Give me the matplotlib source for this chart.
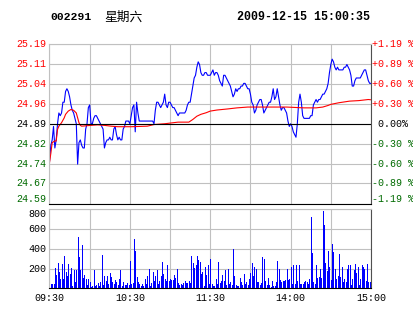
import matplotlib.pyplot as plt
import numpy as np

# header text
stock_code = '002291'
weekday = '星期六'
stamp = '2009-12-15 15:00:35'

# price axis labels (previous close in the middle)
pre_close = 24.89
price_labels = ['25.19', '25.11', '25.04', '24.96', '24.89', '24.82', '24.74', '24.67', '24.59']
pct_values = [1.19, 0.89, 0.60, 0.30, 0.00, -0.30, -0.60, -0.89, -1.19]
pct_labels = ['+1.19 %', '+0.89 %', '+0.60 %', '+0.30 %', ' 0.00%',
              '-0.30 %', '-0.60 %', '-0.89 %', '-1.19 %']
time_ticks = [0, 60, 120, 180, 240]
time_labels = ['09:30', '10:30', '11:30', '14:00', '15:00']
vol_ticks = [200, 400, 600, 800]

# minute prices 09:30 - 11:30, 13:00 - 15:00
price = [
    24.75, 24.81, 24.83, 24.88, 24.80, 24.83, 24.89, 24.93, 24.92, 24.93,
    24.97, 24.97, 25.01, 25.02, 25.01, 24.99, 24.96, 24.94, 24.93, 24.91,
    24.89, 24.74, 24.82, 24.83, 24.81, 24.80, 24.80, 24.87, 24.89, 24.95,
    24.96, 24.89, 24.89, 24.91, 24.92, 24.92, 24.91, 24.90, 24.89, 24.88,
    24.87, 24.80, 24.82, 24.83, 24.83, 24.84, 24.83, 24.83, 24.87, 24.88,
    24.85, 24.83, 24.84, 24.83, 24.83, 24.87, 24.88, 24.90, 24.90, 24.90,
    24.89, 24.92, 24.95, 24.96, 24.86, 24.97, 24.93, 24.90, 24.90, 24.90,
    24.90, 24.90, 24.90, 24.90, 24.90, 24.90, 24.90, 24.90, 24.89, 24.94,
    24.97, 24.97, 24.96, 24.95, 24.96, 24.97, 25.00, 24.96, 24.95, 24.97,
    24.97, 24.96, 24.95, 24.95, 24.94, 24.93, 24.92, 24.93, 24.93, 24.93,
    24.93, 24.93, 24.94, 24.96, 24.97, 24.97, 25.00, 25.03, 25.06, 25.07,
    25.10, 25.12, 25.11, 25.08, 25.07, 25.07, 25.08, 25.08, 25.07, 25.07,
    25.07, 25.08, 25.09, 25.07, 25.08, 25.08, 25.07, 25.05, 25.04, 25.03,
    25.07, 25.07, 25.06, 25.05, 25.04, 25.03, 25.01, 24.99, 25.00, 25.02,
    25.01, 25.02, 25.02, 25.03, 25.03, 25.04, 25.04, 25.03, 25.02, 25.02,
    25.00, 24.97, 24.96, 24.93, 24.94, 24.96, 24.97, 24.98, 24.98, 24.96,
    24.93, 24.94, 24.95, 24.96, 24.97, 24.97, 24.99, 25.02, 24.98, 24.99,
    25.02, 24.99, 24.96, 24.94, 24.95, 24.95, 24.94, 24.93, 24.90, 24.88,
    24.89, 24.88, 24.86, 24.85, 24.84, 24.89, 24.97, 25.00, 24.97, 24.92,
    24.91, 24.91, 24.91, 24.91, 24.91, 24.92, 24.92, 24.96, 24.97, 24.98,
    24.97, 24.98, 24.98, 24.99, 25.00, 25.00, 25.01, 25.02, 25.04, 25.08,
    25.11, 25.13, 25.12, 25.10, 25.09, 25.10, 25.09, 25.09, 25.09, 25.09,
    25.10, 25.10, 25.11, 25.10, 25.09, 25.07, 25.03, 25.03, 25.05, 25.06,
    25.06, 25.06, 25.06, 25.07, 25.08, 25.09, 25.09, 25.07, 25.05, 25.04,
    25.04,
]

# average price line, read at a coarser step
avg_minutes = [0, 1, 2, 4, 5, 6, 7, 9, 11, 12, 14, 16, 18, 20, 21, 22, 23, 24,
               31, 36, 41, 46, 51, 61, 73, 78, 86, 96, 104, 107, 110, 113, 117,
               120, 125, 133, 140, 148, 155, 165, 177, 190, 199, 204, 208, 210,
               216, 224, 231, 238, 240]
avg_price = [24.746, 24.78, 24.82, 24.826, 24.826, 24.869, 24.881, 24.894, 24.912,
             24.925, 24.937, 24.943, 24.940, 24.930, 24.912, 24.894, 24.884, 24.881,
             24.884, 24.886, 24.884, 24.881, 24.879, 24.879, 24.881, 24.887, 24.890,
             24.896, 24.896, 24.906, 24.918, 24.925, 24.931, 24.937, 24.941, 24.945,
             24.949, 24.952, 24.952, 24.952, 24.952, 24.949, 24.949, 24.952, 24.958,
             24.962, 24.968, 24.974, 24.976, 24.980, 24.979]

# minute volume
volume = [
    327, 44, 40, 40, 209, 135, 253, 169, 95, 246,
    95, 327, 169, 125, 246, 142, 203, 24, 186, 61,
    186, 520, 321, 182, 439, 101, 135, 95, 34, 95,
    61, 17, 24, 186, 24, 34, 57, 24, 68, 338,
    34, 125, 74, 128, 47, 155, 115, 68, 40, 81,
    68, 34, 95, 186, 27, 61, 34, 34, 57, 34,
    277, 40, 51, 500, 375, 118, 68, 40, 24, 40,
    27, 95, 47, 125, 196, 27, 57, 162, 74, 122,
    186, 40, 74, 128, 263, 142, 95, 74, 236, 74,
    95, 84, 84, 135, 108, 196, 54, 34, 47, 34,
    54, 74, 54, 54, 78, 54, 327, 257, 209, 236,
    327, 290, 263, 149, 165, 27, 216, 135, 236, 44,
    297,
    44, 24, 24, 95, 47, 263, 54, 74, 135, 74,
    186, 34, 196, 47, 61, 34, 398, 125, 34, 24,
    24, 108, 61, 34, 145, 47, 68, 34, 95, 152,
    257, 125, 216, 196, 61, 61, 34, 51, 314, 297,
    74, 34, 101, 34, 17, 74, 24, 24, 61, 277,
    196, 81, 61, 74, 74, 81, 196, 81, 95, 216,
    47, 236, 47, 236, 74, 236, 40, 44, 44, 61,
    74, 61, 47, 95, 722, 358, 61, 47, 236, 108,
    111, 196, 108, 783, 641, 257, 176, 378, 216, 81,
    452, 368, 196, 95, 128, 344, 118, 216, 61, 95,
    61, 196, 236, 236, 34, 95, 186, 243, 152, 216,
    34, 95, 236, 219, 196, 74, 243, 68, 60, 520,
]

minutes = np.arange(len(price))
mono = 'Liberation Mono'
red, green, grid_c = '#ff0000', '#006a00', '#c0c0c0'

W, H = 414, 314
fig = plt.figure(figsize=(W / 100, H / 100), dpi=100)
ax = fig.add_axes([49.5 / W, 110.5 / H, 321.5 / W, 159.5 / H])
axv = fig.add_axes([49.5 / W, 25.7 / H, 321.5 / W, 79 / H])

# header
fig.text(50 / W, 1 - 17 / H, stock_code, family=mono, fontweight='bold', fontsize=8.2, va='center')
fig.text(104 / W, 1 - 17 / H, weekday, family=['Noto Sans CJK SC', 'DejaVu Sans'], fontsize=9.2, va='center')
fig.text(370 / W, 1 - 17 / H, stamp, family=mono, fontweight='bold', fontsize=8.4, va='center', ha='right')

# price panel
levels = [pre_close * (1 + p / 100) for p in pct_values]
ax.plot(minutes, price, color='#0000ff', lw=0.8)
ax.plot(avg_minutes, avg_price, color=red, lw=0.8)
ax.axhline(pre_close, color='black', lw=0.8)
ax.set_xlim(0, 240)
ax.set_ylim(levels[-1], levels[0])
ax.set_yticks(levels)
ax.set_xticks(range(0, 241, 30))
ax.grid(True, color=grid_c, lw=0.8)
ax.tick_params(length=0, labelleft=False, labelbottom=False)

for lv, pl, cl, pv in zip(levels, price_labels, pct_labels, pct_values):
    col = red if pv > 0 else (green if pv < 0 else 'black')
    va = 'bottom' if pv == pct_values[-1] else 'center'
    ax.text(-3 / 321.5, lv, pl, transform=ax.get_yaxis_transform(), ha='right', va=va,
            family=mono, fontsize=7.2, color=col)
    ax.text(1 + 1 / 321.5, lv, cl, transform=ax.get_yaxis_transform(), ha='left', va=va,
            family=mono, fontsize=7.2, color=col)

# volume panel - one 1px stick per minute
axv.vlines(minutes, 0, volume, color='#0000ff', lw=0.5, antialiased=False)
axv.set_xlim(0, 240)
axv.set_ylim(0, 800)
axv.set_yticks(vol_ticks)
axv.set_xticks(time_ticks)
axv.set_xticklabels(time_labels, family=mono, fontsize=7.2)
axv.set_xticks(range(30, 240, 60), minor=True)
axv.grid(True, which='both', color=grid_c, lw=0.8)
axv.tick_params(which='both', length=0, labelleft=False, pad=3.5)
for v in vol_ticks:
    axv.text(-3 / 321.5, v, str(v), transform=axv.get_yaxis_transform(), ha='right',
             va='top' if v == vol_ticks[-1] else 'center', family=mono, fontsize=7.2)

for a in (ax, axv):
    a.set_axisbelow(True)
    for s in ('top', 'left'):
        a.spines[s].set_color(grid_c)
    a.spines['right'].set_color('#505050')
    a.spines['bottom'].set_color('black')
    for s in a.spines.values():
        s.set_linewidth(0.8)

fig.savefig('out.png', dpi=100)
